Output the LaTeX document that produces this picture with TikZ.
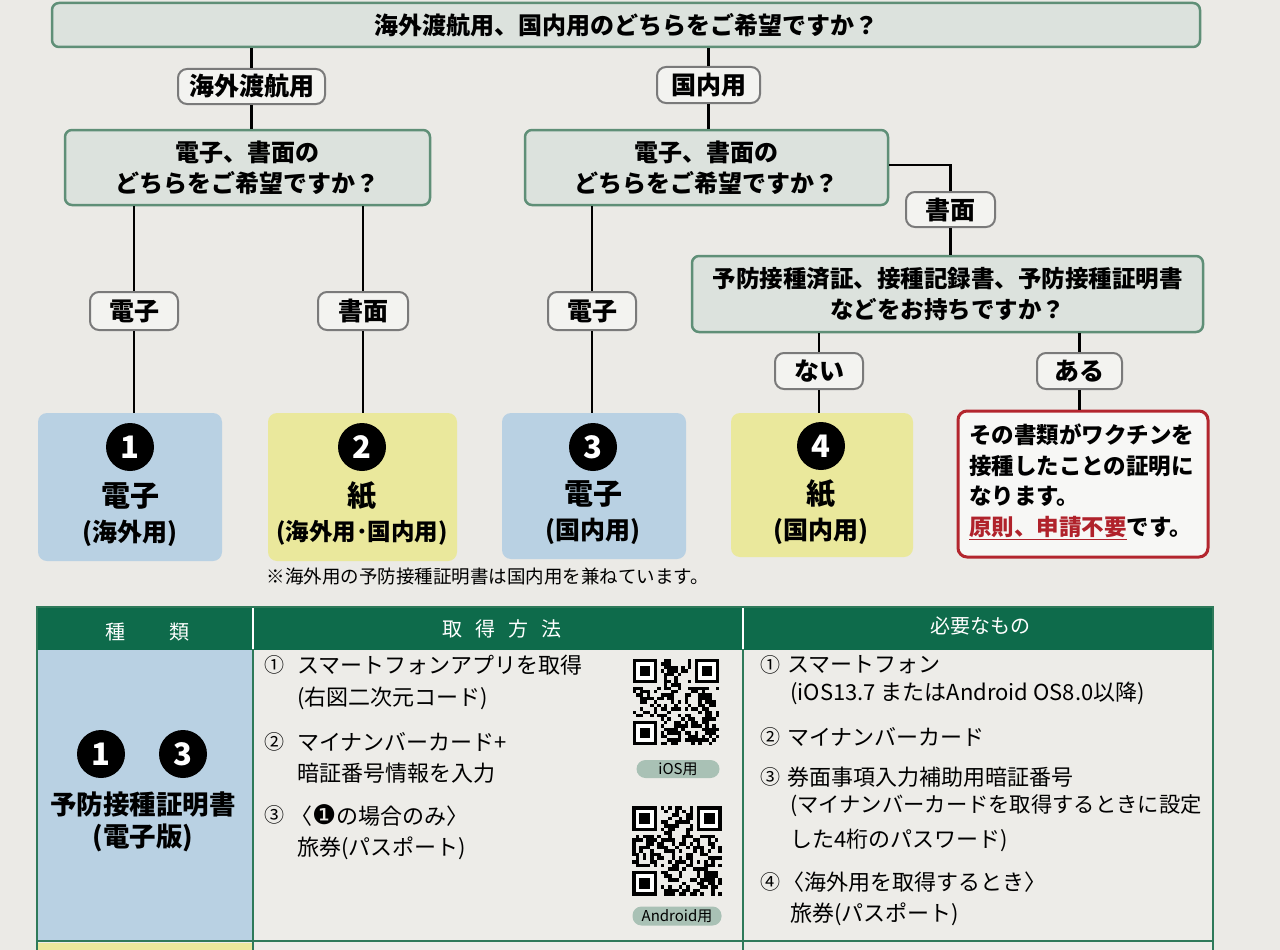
\documentclass[tikz,border=0pt]{standalone}
\usepackage{fontspec}
\setmainfont{Noto Sans CJK JP}
\newfontfamily\dejavu{DejaVu Sans}
\usetikzlibrary{calc}
\definecolor{paper}{HTML}{EBEAE6}
\definecolor{qfill}{HTML}{DCE2DD}
\definecolor{qborder}{HTML}{5F8F77}
\definecolor{lblfill}{HTML}{F3F3F0}
\definecolor{lblborder}{HTML}{7A7A7A}
\definecolor{bluebox}{HTML}{B9D1E3}
\definecolor{yellowbox}{HTML}{EAE89C}
\definecolor{redborder}{HTML}{B3262E}
\definecolor{redtxt}{HTML}{B0222B}
\definecolor{thead}{HTML}{0E6B4B}
\definecolor{tline}{HTML}{2E7A5A}
\definecolor{pill}{HTML}{A9C1B5}
\definecolor{bodyfill}{HTML}{EDECE8}
\newcommand\fsz[2]{\fontsize{#1}{#2}\selectfont}
\newcommand{\qrpat}[4]{%
  \begin{scope}[shift={(#1,#2)}]
    \pgfmathsetmacro\qm{#3/25}
    \pgfmathsetseed{#4}
    \foreach \i in {0,...,24}{
      \foreach \j in {0,...,24}{
        \pgfmathrandominteger{\r}{0}{1}
        \pgfmathtruncatemacro\inf{((\i<8)&&(\j<8))||((\i>16)&&(\j<8))||((\i<8)&&(\j>16))}
        \ifnum\inf=0 \ifnum\r=1
          \fill[black] (\i*\qm,\j*\qm) rectangle ++(\qm,\qm);
        \fi\fi
      }
    }
    \foreach \a/\b in {0/0,18/0,0/18}{
      \fill[black] (\a*\qm,\b*\qm) rectangle ++(7*\qm,7*\qm);
      \fill[white] (\a*\qm+\qm,\b*\qm+\qm) rectangle ++(5*\qm,5*\qm);
      \fill[black] (\a*\qm+2*\qm,\b*\qm+2*\qm) rectangle ++(3*\qm,3*\qm);
    }
  \end{scope}}
\tikzset{
  q/.style={draw=qborder, line width=2.5pt, fill=qfill, rounded corners=7pt,
    font=\bfseries\fsz{24}{31}, align=center, inner sep=0pt},
  lbl/.style={draw=lblborder, line width=2pt, fill=lblfill, rounded corners=9pt,
    font=\bfseries\fsz{25}{28}, inner sep=0pt},
  res/.style={rounded corners=9pt, inner sep=0pt},
  conn/.style={line width=2.8pt, black},
  numc/.style={circle, fill=black, text=white, font=\bfseries\fsz{31}{31},
    minimum size=48pt, inner sep=0pt},
  big/.style={font=\bfseries\fsz{29}{32}},
  paren/.style={font=\bfseries\fsz{25}{30}},
  body/.style={font=\fsz{22}{26}, anchor=west, inner sep=0pt},
  circ/.style={font=\fsz{20}{24}, inner sep=0pt},
  hdr/.style={font=\fsz{20}{24}, text=white, inner sep=0pt},
  pilltag/.style={fill=pill, rounded corners=9pt, font=\fsz{15}{17}, inner sep=0pt}
}
\begin{document}
\begin{tikzpicture}[x=1pt,y=-1pt]
\useasboundingbox (0,0) rectangle (1280,950);
\fill[paper] (0,0) rectangle (1280,950);

% ---------- flowchart nodes ----------
\node[q, minimum width=1148pt, minimum height=44pt] (top) at (626,25)
  {海外渡航用、国内用のどちらをご希望ですか？};
\node[lbl, minimum width=147pt, minimum height=35pt] (lA) at (251.5,86.5) {海外渡航用};
\node[lbl, minimum width=103pt, minimum height=36pt] (lB) at (708.5,85) {国内用};
\node[q, minimum width=365pt, minimum height=75pt] (qL) at (247.5,167.5)
  {電子、書面の\\どちらをご希望ですか？};
\node[q, minimum width=363pt, minimum height=75pt] (qR) at (706.5,167.5)
  {電子、書面の\\どちらをご希望ですか？};
\node[lbl, minimum width=88pt, minimum height=38pt] (l1) at (134,311) {電子};
\node[lbl, minimum width=90pt, minimum height=38pt] (l2) at (363,311) {書面};
\node[lbl, minimum width=88pt, minimum height=38pt] (l3) at (592,311) {電子};
\node[lbl, minimum width=89pt, minimum height=35pt] (l4) at (950.5,209.5) {書面};
\node[q, minimum width=511pt, minimum height=76pt, font=\bfseries\fsz{23.5}{31}] (qD) at (947.5,294)
  {予防接種済証、接種記録書、予防接種証明書\\などをお持ちですか？};
\node[lbl, minimum width=88pt, minimum height=36pt] (lN) at (819,371) {ない};
\node[lbl, minimum width=85pt, minimum height=36pt] (lY) at (1079.5,371) {ある};

\node[res, fill=bluebox, minimum width=184pt, minimum height=148pt] (b1) at (130,487) {};
\node[res, fill=yellowbox, minimum width=189pt, minimum height=148pt] (b2) at (362.5,487) {};
\node[res, fill=bluebox, minimum width=184pt, minimum height=146pt] (b3) at (594,486) {};
\node[res, fill=yellowbox, minimum width=182pt, minimum height=144pt] (b4) at (822,485) {};
\node[res, draw=redborder, line width=3pt, fill=white!60!paper, minimum width=250pt, minimum height=146pt] (b5) at (1083,484) {};

% box contents
\node[numc] (n1) at (130,447) {1};
\node[big] (t1a) at (130,496) {電子};
\node[paren] (t1b) at (130,533) {(海外用)};
\node[numc] (n2) at (362,447) {2};
\node[big] (t2a) at (362,496) {紙};
\node[paren, font=\bfseries\fsz{23.5}{30}] (t2b) at (362,533) {(海外用･国内用)};
\node[numc] (n3) at (593,447) {3};
\node[big] (t3a) at (593,494) {電子};
\node[paren] (t3b) at (593,531) {(国内用)};
\node[numc] (n4) at (821,446) {4};
\node[big] (t4a) at (821,494) {紙};
\node[paren] (t4b) at (821,531) {(国内用)};
\node[anchor=west, align=left, inner sep=0pt, font=\bfseries\fsz{22.5}{30.5}] (t5) at (969,482)
  {その書類がワクチンを\\接種したことの証明に\\なります。\\{\color{redtxt}\underline{原則、申請不要}}です。};

\node[font=\fsz{18.5}{22}, inner sep=0pt] (note) at (488,577)
  {※海外用の予防接種証明書は国内用を兼ねています。};

% ---------- connectors ----------
\draw[conn] (top.south -| lA.north) -- (lA.north);
\draw[conn] (lA.south) -- (lA.south |- qL.north);
\draw[conn] (top.south -| lB.north) -- (lB.north);
\draw[conn] (lB.south) -- (lB.south |- qR.north);
\draw[conn] (qL.south -| l1.north) -- (l1.north);
\draw[conn] (l1.south) -- (l1.south |- b1.north);
\draw[conn] (qL.south -| l2.north) -- (l2.north);
\draw[conn] (l2.south) -- (l2.south |- b2.north);
\draw[conn] (qR.south -| l3.north) -- (l3.north);
\draw[conn] (l3.south) -- (l3.south |- b3.north);
\coordinate (bend) at (l4.north |- 0,165);
\draw[conn] (qR.east |- bend) -- (bend) -- (l4.north);
\draw[conn] (l4.south) -- (l4.south |- qD.north);
\draw[conn] (qD.south -| lN.north) -- (lN.north);
\draw[conn] (lN.south) -- (lN.south |- b4.north);
\draw[conn] (qD.south -| lY.north) -- (lY.north);
\draw[conn] (lY.south) -- (lY.south |- b5.north);

% ---------- table ----------
\fill[bodyfill] (37,650) rectangle (1213,950);
\fill[thead] (37,607) rectangle (1213,650);
\fill[bluebox] (37,650) rectangle (253,940);
\fill[yellowbox] (37,943) rectangle (253,950);
\draw[tline, line width=2pt] (37,950) -- (37,607) -- (1213,607) -- (1213,950);
\draw[tline, line width=2pt] (253,607) -- (253,950);
\draw[tline, line width=2pt] (743,607) -- (743,950);
\draw[tline, line width=2pt] (37,941) -- (1213,941);
\draw[white, line width=1.2pt] (253,608) -- (253,649);
\draw[white, line width=1.2pt] (743,608) -- (743,649);

\node[hdr] (h1) at (147,632) {種\hspace{44pt}類};
\node[hdr] (h2) at (502,629) {取\hspace{13pt}得\hspace{13pt}方\hspace{13pt}法};
\node[hdr] (h3) at (980,626) {必要なもの};

% left cell
\node[numc] (c1) at (101,754) {1};
\node[numc] (c3) at (183,754) {3};
\node[font=\bfseries\fsz{26.5}{30}, inner sep=0pt] (k1) at (143,804) {予防接種証明書};
\node[font=\bfseries\fsz{26.5}{30}, inner sep=0pt] (k2) at (143,838) {(電子版)};

% middle column
\node[circ] (m1) at (274,665) {①};
\node[body] (m1a) at (297,665) {スマートフォンアプリを取得};
\node[body] (m1b) at (297,698) {(右図二次元コード)};
\node[circ] (m2) at (274,742) {②};
\node[body] (m2a) at (297,742) {マイナンバーカード+};
\node[body] (m2b) at (297,773) {暗証番号情報を入力};
\node[circ] (m3) at (274,815) {③};
\node[body] (m3a) at (290,815) {〈{\dejavu\fsz{27}{26}❶}の場合のみ〉};
\node[body] (m3b) at (297,848) {旅券(パスポート)};

% QR codes
\qrpat{633}{659}{86}{42}
\qrpat{632}{806}{90}{77}
\node[pilltag, minimum width=83pt, minimum height=18pt] (p1) at (678,769) {iOS用};
\node[pilltag, minimum width=89pt, minimum height=19pt] (p2) at (677,916) {Android用};

% right column
\node[circ] (r1) at (770,665) {①};
\node[body] (r1a) at (787,665) {スマートフォン};
\node[body] (r1b) at (790,693) {(iOS13.7 またはAndroid OS8.0以降)};
\node[circ] (r2) at (770,737) {②};
\node[body] (r2a) at (787,737) {マイナンバーカード};
\node[circ] (r3) at (770,777) {③};
\node[body] (r3a) at (787,777) {券面事項入力補助用暗証番号};
\node[body, font=\fsz{21.3}{26}] (r3b) at (790,806) {(マイナンバーカードを取得するときに設定};
\node[body] (r3c) at (790,840) {した4桁のパスワード)};
\node[circ] (r4) at (770,882) {④};
\node[body] (r4a) at (782,882) {〈海外用を取得するとき〉};
\node[body] (r4b) at (790,914) {旅券(パスポート)};
\end{tikzpicture}
\end{document}
